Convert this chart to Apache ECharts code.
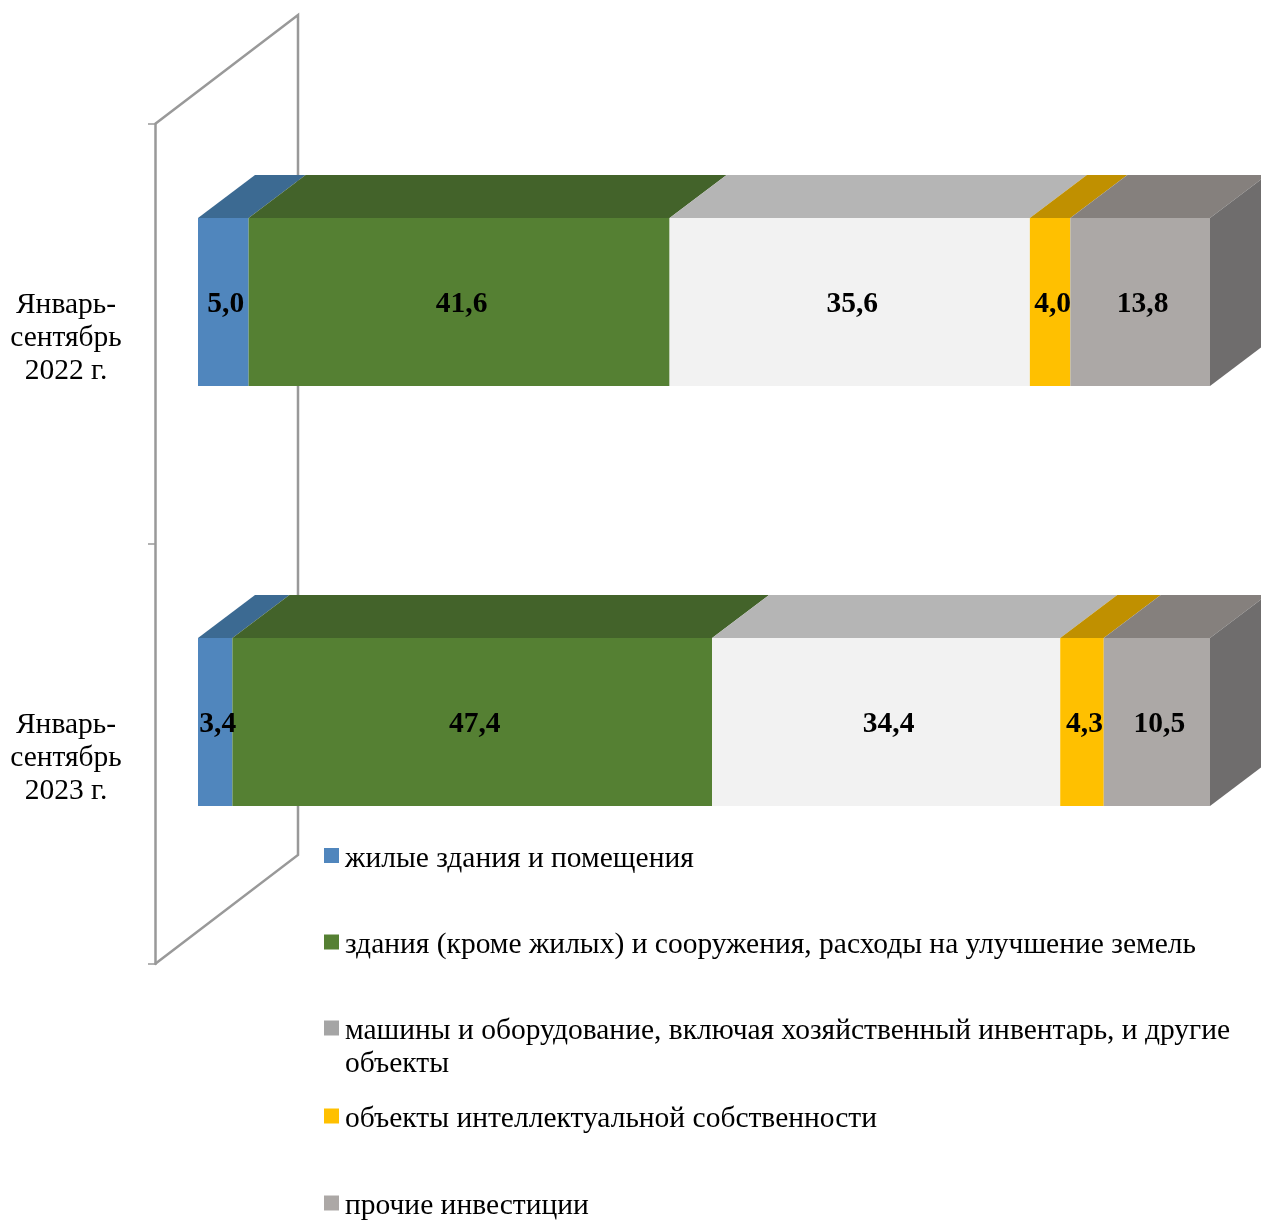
<!DOCTYPE html>
<html><head><meta charset="utf-8">
<style>html,body{margin:0;padding:0;background:#fff;overflow:hidden}#c{width:1261px;height:1220px}</style>
<script src="https://cdn.jsdelivr.net/npm/echarts@6/dist/echarts.min.js"></script>
</head><body><div id="c"></div>
<script>
const categories = ['Январь-\nсентябрь\n2022 г.', 'Январь-\nсентябрь\n2023 г.'];
const seriesNames = [
  'жилые здания и помещения',
  'здания (кроме жилых) и сооружения, расходы на улучшение земель',
  'машины и оборудование, включая хозяйственный инвентарь, и другие\nобъекты',
  'объекты интеллектуальной собственности',
  'прочие инвестиции'
];
const housing = [5.0, 3.4];
const buildings = [41.6, 47.4];
const machinery = [35.6, 34.4];
const intellectual = [4.0, 4.3];
const other = [13.8, 10.5];
const allValues = [housing, buildings, machinery, intellectual, other];

const frontColors = ['#5086bd', '#558033', '#f2f2f2', '#ffc000', '#aca8a6'];
const topColors = ['#3c6a92', '#43632a', '#b5b5b5', '#c09000', '#85807d'];
const sideColor = '#6f6d6d';
const legendColors = ['#5086bd', '#558033', '#a5a5a5', '#ffc000', '#aca8a6'];
const legendTops = [837, 923.5, 978.5, 1097.5, 1184.5];
const FONT = '"Liberation Serif"';
const FS = 29.5;

const OFF = [43, -32], DEPTH = [57, -43];
const AXIS = '#999999';

const wrapLines = s => s.split('\n').map(l => '{a|' + l + '}').join('\n');

function renderSeg(params, api) {
  const start = api.value(0), end = api.value(1), cat = api.value(2), v = api.value(3);
  const si = params.seriesIndex - 1;
  const a = api.coord([start, cat]), b = api.coord([end, cat]);
  const h = 168;
  const x0 = a[0] + OFF[0], x1 = b[0] + OFF[0];
  const yc = a[1] + OFF[1];
  const y0 = yc - h / 2, y1 = yc + h / 2;
  const children = [];
  children.push({type:'polygon', shape:{points:[[x0,y0],[x1,y0],[x1+DEPTH[0],y0+DEPTH[1]],[x0+DEPTH[0],y0+DEPTH[1]]]}, style:{fill:topColors[si]}});
  if (si === allValues.length - 1) {
    children.push({type:'polygon', shape:{points:[[x1,y0],[x1+DEPTH[0],y0+DEPTH[1]],[x1+DEPTH[0],y1+DEPTH[1]],[x1,y1]]}, style:{fill:sideColor}});
  }
  children.push({type:'rect', shape:{x:x0,y:y0,width:x1-x0,height:h}, style:{fill:frontColors[si]}});
  children.push({type:'text', z2:10, style:{x:(x0+x1)/2+2.5, y:yc+2.5, text:v.toFixed(1).replace('.',','), align:'center', verticalAlign:'middle', fill:'#000', font:'bold '+FS+'px '+FONT}});
  return {type:'group', children};
}
function renderWall(params, api) {
  const c0 = api.coord([0, 0]), c1 = api.coord([0, 1]);
  const half = (c1[1] - c0[1]) / 2;
  const x = c0[0], yT = c0[1] - half, yB = c1[1] + half;
  const d = [143, -109];
  return {type:'polyline', shape:{points:[[x,yT],[x+d[0],yT+d[1]],[x+d[0],yB+d[1]],[x,yB]]},
    style:{fill:null, stroke:AXIS, lineWidth:2.5}};
}
let acc = categories.map(() => 0);
const segSeries = allValues.map((vals, si) => {
  const data = vals.map((v, c) => { const s = acc[c]; acc[c] += v; return [s, acc[c], c, v]; });
  return {type:'custom', name:seriesNames[si], clip:false, z:3, data, renderItem:renderSeg,
    itemStyle:{color:legendColors[si]}, encode:{x:[0,1], y:2}};
});
const option = {
  animation:false,
  backgroundColor:'#fff',
  textStyle:{fontFamily:FONT},
  grid:{left:155, top:124, width:1012, height:840, containLabel:false},
  xAxis:{type:'value', min:0, max:100, show:false},
  yAxis:{type:'category', inverse:true, data:categories,
    axisLine:{show:true, lineStyle:{color:AXIS, width:2.5}},
    axisTick:{show:true, length:7, lineStyle:{color:AXIS, width:1.5}},
    splitLine:{show:false},
    axisLabel:{color:'#000', fontFamily:FONT, fontSize:FS, lineHeight:33, align:'center', margin:89, interval:0,
      formatter:wrapLines,
      rich:{a:{fontFamily:FONT, fontSize:FS, lineHeight:33, color:'#000', padding:[8,0,0,0]}}}},
  legend: seriesNames.map((n, i) => ({
    left:324, top:legendTops[i], orient:'vertical', padding:0, itemWidth:15, itemHeight:15,
    icon:'rect', selectedMode:false,
    data:[{name:n, itemStyle:{color:legendColors[i]}}],
    formatter: i === 2 ? (s => '\n' + wrapLines(s)) : wrapLines,
    textStyle:{color:'#000', fontFamily:FONT, fontSize:FS, lineHeight:33,
      rich:{a:{fontFamily:FONT, fontSize:FS, lineHeight:33, color:'#000', padding:[7,0,0,1]}}}
  })),
  series:[{type:'custom', name:'wall', clip:false, z:1, data:[[0]], renderItem:renderWall, silent:true}].concat(segSeries)
};
echarts.init(document.getElementById('c'), null, {renderer:'canvas'}).setOption(option);
</script></body></html>
